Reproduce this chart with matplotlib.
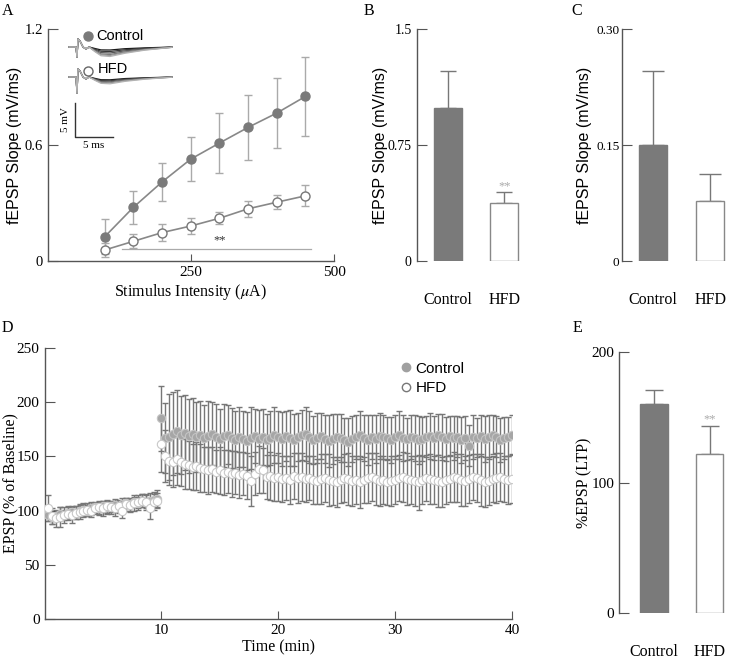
import numpy as np
import matplotlib
matplotlib.use('Agg')
import matplotlib.pyplot as plt

plt.rcParams['font.family'] = 'Liberation Serif'
plt.rcParams['mathtext.fontset'] = 'stix'
plt.rcParams['axes.linewidth'] = 1.0
SANS = 'Liberation Sans'

# ---- panel A: input/output curve ----
intensity = [100, 150, 200, 250, 300, 350, 400, 450]
io_ctrl = [0.126, 0.278, 0.409, 0.527, 0.61, 0.691, 0.765, 0.851]
io_ctrl_err = [0.092, 0.086, 0.10, 0.115, 0.155, 0.17, 0.18, 0.205]
io_hfd = [0.057, 0.102, 0.147, 0.181, 0.221, 0.27, 0.304, 0.337]
io_hfd_err = [0.034, 0.036, 0.043, 0.043, 0.031, 0.04, 0.036, 0.055]

# inset traces (pixel-like units)
trace_t = [69, 76, 77, 78, 80, 83, 86, 89, 95, 101, 110, 125, 145, 172]
trace_base = [0, 0, 10, -8, -6, 0, 2, 0, 1, 2, 2, 1, 0.5, 0]
trace_epsp = [0, 0, 0, 0, 0, 0, 0, 0, 0.5, 0.9, 1.0, 0.7, 0.35, 0.05]
ctrl_amps = [1.0, 2.5, 4.0, 5.5, 6.5, 7.5]
hfd_amps = [0.8, 1.8, 2.8, 3.8, 4.8]

# ---- panel B / C ----
groups = ['Control', 'HFD']
slope_b = [0.988, 0.373]
slope_b_err = [0.238, 0.07]
slope_c = [0.150, 0.0777]
slope_c_err = [0.096, 0.035]

# ---- panel D: LTP time course ----
time_min = np.arange(1, 121) / 3.0
ltp_ctrl = [96, 94, 95, 97, 96, 98, 99, 98, 100, 101,
            100, 102, 103, 102, 104, 103, 104, 105, 104, 106,
            107, 106, 108, 107, 109, 108, 109, 110, 111,
            185, 167, 168, 171, 173, 170, 172, 169, 171, 168,
            170, 167, 169, 171, 168, 166, 169, 170, 167, 165,
            168, 166, 164, 167, 169, 166, 168, 165, 167, 170,
            168, 166, 169, 167, 165, 168, 170, 171, 168, 165,
            167, 169, 166, 164, 166, 168, 167, 165, 163, 166,
            168, 170, 167, 165, 168, 166, 169, 168, 167, 165,
            168, 170, 167, 166, 168, 167, 165, 166, 168, 169,
            167, 170, 168, 166, 169, 167, 168, 165, 167, 160,
            168, 167, 169, 166, 168, 170, 168, 165, 167, 168,
            170]
ltp_ctrl_err = [6, 6, 5, 6, 5, 6, 5, 6, 5, 6,
                5, 6, 5, 6, 5, 6, 5, 6, 5, 6,
                5, 6, 5, 6, 6, 7, 7, 7, 8,
                30, 32, 40, 38, 38, 36, 35, 34, 33, 32,
                31, 30, 32, 29, 30, 28, 29, 27, 28, 27,
                28, 26, 27, 29, 25, 27, 26, 24, 25, 26,
                24, 25, 23, 26, 24, 22, 23, 25, 24, 22,
                23, 21, 22, 24, 23, 21, 22, 20, 22, 21,
                20, 22, 21, 23, 20, 22, 21, 20, 19, 21,
                20, 22, 21, 19, 20, 21, 22, 20, 19, 21,
                20, 19, 21, 20, 18, 20, 19, 21, 20, 19,
                20, 18, 19, 21, 20, 18, 19, 20, 19, 18,
                18]
ltp_hfd = [102, 95, 93, 94, 96, 97, 96, 98, 99, 100,
           101, 100, 102, 103, 102, 104, 103, 102, 104, 100,
           106, 105, 107, 108, 109, 108, 102, 108, 109,
           161, 150, 146, 145, 148, 145, 143, 142, 140, 141,
           139, 138, 137, 138, 136, 137, 135, 136, 134, 135,
           133, 134, 132, 127, 134, 138, 137, 131, 132, 130,
           131, 129, 130, 128, 132, 130, 131, 129, 130, 128,
           127, 129, 130, 128, 127, 126, 128, 130, 129, 127,
           128, 126, 128, 130, 131, 129, 127, 128, 126, 127,
           128, 130, 131, 129, 128, 127, 126, 128, 130, 129,
           128, 127, 126, 128, 129, 131, 130, 128, 127, 129,
           131, 130, 128, 126, 127, 129, 130, 131, 129, 128,
           129]
ltp_hfd_err = [12, 7, 8, 9, 7, 6, 7, 6, 7, 6,
               6, 6, 5, 6, 7, 6, 6, 7, 6, 7,
               6, 6, 7, 6, 6, 6, 10, 7, 7,
               25, 24, 22, 23, 24, 22, 23, 22, 21, 22,
               22, 21, 22, 21, 20, 22, 21, 20, 21, 20,
               21, 20, 21, 23, 20, 22, 21, 20, 22, 21,
               22, 21, 20, 22, 21, 23, 22, 21, 20, 22,
               21, 23, 22, 24, 22, 23, 21, 22, 24, 23,
               22, 24, 21, 23, 22, 24, 23, 22, 21, 23,
               22, 21, 23, 24, 22, 23, 25, 22, 21, 23,
               22, 24, 23, 22, 21, 23, 22, 24, 23, 22,
               21, 22, 24, 23, 22, 21, 23, 22, 21, 22,
               22]

# ---- panel E ----
ltp_bar = [160, 122]
ltp_bar_err = [10.7, 21]

dark = '#7a7a7a'
spine_c = '#555555'

fig = plt.figure(figsize=(7.29, 6.59), dpi=100)
W, H = 729, 659


def px_axes(x0, y0, x1, y1):
    return fig.add_axes([x0 / W, 1 - y1 / H, (x1 - x0) / W, (y1 - y0) / H])


def style(ax, bottom=True):
    for s in ['top', 'right']:
        ax.spines[s].set_visible(False)
    ax.spines['left'].set_color(spine_c)
    ax.spines['bottom'].set_color(spine_c)
    ax.spines['bottom'].set_visible(bottom)
    ax.tick_params(direction='in', length=7, color=spine_c, labelsize=10.5)


def ylabel_at(ax, px_x, x0, x1):
    # px_x = figure pixel column of the label's right edge
    ax.yaxis.set_label_coords((px_x - x0) / (x1 - x0), 0.5)


# Panel A
axA = px_axes(47.5, 29, 334, 261)
style(axA)
axA.errorbar(intensity, io_ctrl, yerr=io_ctrl_err, fmt='none', ecolor='#aaaaaa',
             elinewidth=1, capsize=3)
axA.errorbar(intensity, io_hfd, yerr=io_hfd_err, fmt='none', ecolor='#aaaaaa',
             elinewidth=1, capsize=3)
axA.plot(intensity, io_ctrl, '-o', color='#888888', mfc=dark, mec=dark, ms=6.5, lw=1.2)
axA.plot(intensity, io_hfd, '-o', color='#888888', mfc='white', mec='#777777', ms=6.5, lw=1.2)
axA.plot([130, 460], [0.062, 0.062], color='#aaaaaa', lw=0.9)
axA.text(300, 0.075, '**', ha='center', va='bottom', fontsize=9, color='#333333')
axA.set_xlim(0, 500)
axA.set_ylim(0, 1.2)
axA.set_xticks([250, 500])
axA.set_yticks([0, 0.6, 1.2])
axA.set_yticklabels(['0', '0.6', '1.2'])
axA.tick_params(axis='x', length=5, labelsize=11)
axA.set_xlabel(r'Stimulus Intensity ($\mu$A)', fontsize=11.5, labelpad=2)
axA.set_ylabel('fEPSP Slope (mV/ms)', fontsize=11.5, family=SANS)
ylabel_at(axA, 22, 47.5, 334)

# inset traces
axI = px_axes(55, 28, 185, 150)
axI.set_xlim(55, 185)
axI.set_ylim(150, 28)
axI.axis('off')
tr_t = np.array(trace_t, dtype=float)
for base_y, amps, spike in [(47, ctrl_amps, 1.0), (77, hfd_amps, 1.6)]:
    grays = np.linspace(0.1, 0.7, len(amps))
    for a, g in zip(amps, grays):
        v = base_y + np.array(trace_base) * np.array([1, 1, spike, 1, 1, 1, 1, 1, 1, 1, 1, 1, 1, 1]) \
            + a * np.array(trace_epsp)
        axI.plot(tr_t, v, color=str(g), lw=0.9)
axI.plot([75, 75, 113], [103, 137, 137], color='#333333', lw=1)
axI.text(66, 120, '5 mV', rotation=90, ha='center', va='center', fontsize=8)
axI.text(94, 141, '5 ms', ha='center', va='top', fontsize=8)
axI.plot([88], [36], 'o', color=dark, ms=6.5)
axI.text(96, 36, 'Control', family=SANS, fontsize=10.5, va='center')
axI.plot([88], [71], 'o', mfc='white', mec='#666666', ms=6.5)
axI.text(98, 69, 'HFD', family=SANS, fontsize=10.5, va='center')


def bar_panel(ax, vals, errs, ylim, yticks, yticklabels, ylabel, capsize, star=None,
              lab_sans=True, tick_fs=10, lab_fs=11.5, tick_pad=3.5):
    style(ax, bottom=False)
    xs = [1, 2]
    ax.bar(xs, vals, width=0.5, color=[dark, 'white'], edgecolor=[dark, '#888888'],
           linewidth=1.0, zorder=2)
    for x, v, e in zip(xs, vals, errs):
        ax.errorbar([x], [v], yerr=[[0], [e]], fmt='none', ecolor='#777777',
                    elinewidth=1, capsize=capsize, zorder=1)
    if star is not None:
        ax.text(2, star, '**', ha='center', va='bottom', fontsize=9, color='#aaaaaa')
    ax.set_ylim(*ylim)
    ax.set_yticks(yticks)
    ax.set_yticklabels(yticklabels)
    ax.tick_params(axis='y', labelsize=tick_fs, pad=tick_pad)
    ax.set_xticks(xs)
    ax.set_xticklabels(groups, fontsize=11.5)
    ax.tick_params(axis='x', length=0, pad=22)
    if lab_sans:
        ax.set_ylabel(ylabel, fontsize=lab_fs, family=SANS)
    else:
        ax.set_ylabel(ylabel, fontsize=lab_fs)


axB = px_axes(416.7, 29, 530, 261)
bar_panel(axB, slope_b, slope_b_err, (0, 1.5), [0, 0.75, 1.5], ['0', '0.75', '1.5'],
          'fEPSP Slope (mV/ms)', 5.5, star=0.445)
axB.set_xlim(0.44, 2.46)
ylabel_at(axB, 388, 416.7, 530)

axC = px_axes(621.7, 29, 729, 261)
bar_panel(axC, slope_c, slope_c_err, (0, 0.30), [0, 0.15, 0.30], ['0', '0.15', '0.30'],
          'fEPSP Slope (mV/ms)', 8, tick_fs=9.5, tick_pad=1.5)
axC.set_xlim(0.45, 2.33)
ylabel_at(axC, 592, 621.7, 729)

# Panel D
axD = px_axes(44.5, 348, 512, 619)
style(axD)
axD.errorbar(time_min, ltp_ctrl, yerr=ltp_ctrl_err, fmt='none', ecolor='#777777',
             elinewidth=1, capsize=2.5, zorder=1)
axD.errorbar(time_min, ltp_hfd, yerr=ltp_hfd_err, fmt='none', ecolor='#777777',
             elinewidth=1, capsize=2.5, zorder=1)
axD.plot(time_min, ltp_ctrl, 'o', mfc='#a6a6a6', mec='#c4c4c4', ms=6, mew=0.8, zorder=3)
axD.plot(time_min, ltp_hfd, 'o', mfc='white', mec='#c8c8c8', ms=6, mew=0.8, zorder=4)
axD.set_xlim(0, 40)
axD.set_ylim(0, 250)
axD.set_xticks([10, 20, 30, 40])
axD.set_yticks([0, 50, 100, 150, 200, 250])
axD.tick_params(axis='x', length=6, labelsize=11)
axD.tick_params(axis='y', length=7, labelsize=11)
axD.set_xlabel('Time (min)', fontsize=11.5, labelpad=2)
axD.set_ylabel('EPSP (% of Baseline)', fontsize=11.5)
ylabel_at(axD, 18, 44.5, 512)
h1, = axD.plot([], [], 'o', mfc='#a0a0a0', mec='#a0a0a0', ms=6)
h2, = axD.plot([], [], 'o', mfc='white', mec='#777777', ms=6)
axD.legend([h1, h2], ['Control', 'HFD'], loc='upper left', bbox_to_anchor=(0.735, 1.0),
           frameon=False, handlelength=0.6, handletextpad=0.3, labelspacing=0.35,
           prop={'family': SANS, 'size': 11})

# Panel E
axE = px_axes(619.3, 351.7, 729, 613.3)
bar_panel(axE, ltp_bar, ltp_bar_err, (0, 200), [0, 100, 200], ['0', '100', '200'],
          '%EPSP (LTP)', 6.5, star=143.5, lab_sans=False, tick_fs=11)
axE.set_xlim(0.375, 2.35)
ylabel_at(axE, 592, 619.3, 729)

# panel letters
for lab, x, y in [('A', 8, 11), ('B', 369, 11), ('C', 577, 11), ('D', 7, 328), ('E', 577, 328)]:
    fig.text(x / W, 1 - y / H, lab, fontsize=11.5, ha='center', va='center')

fig.savefig('out.png', dpi=100)
